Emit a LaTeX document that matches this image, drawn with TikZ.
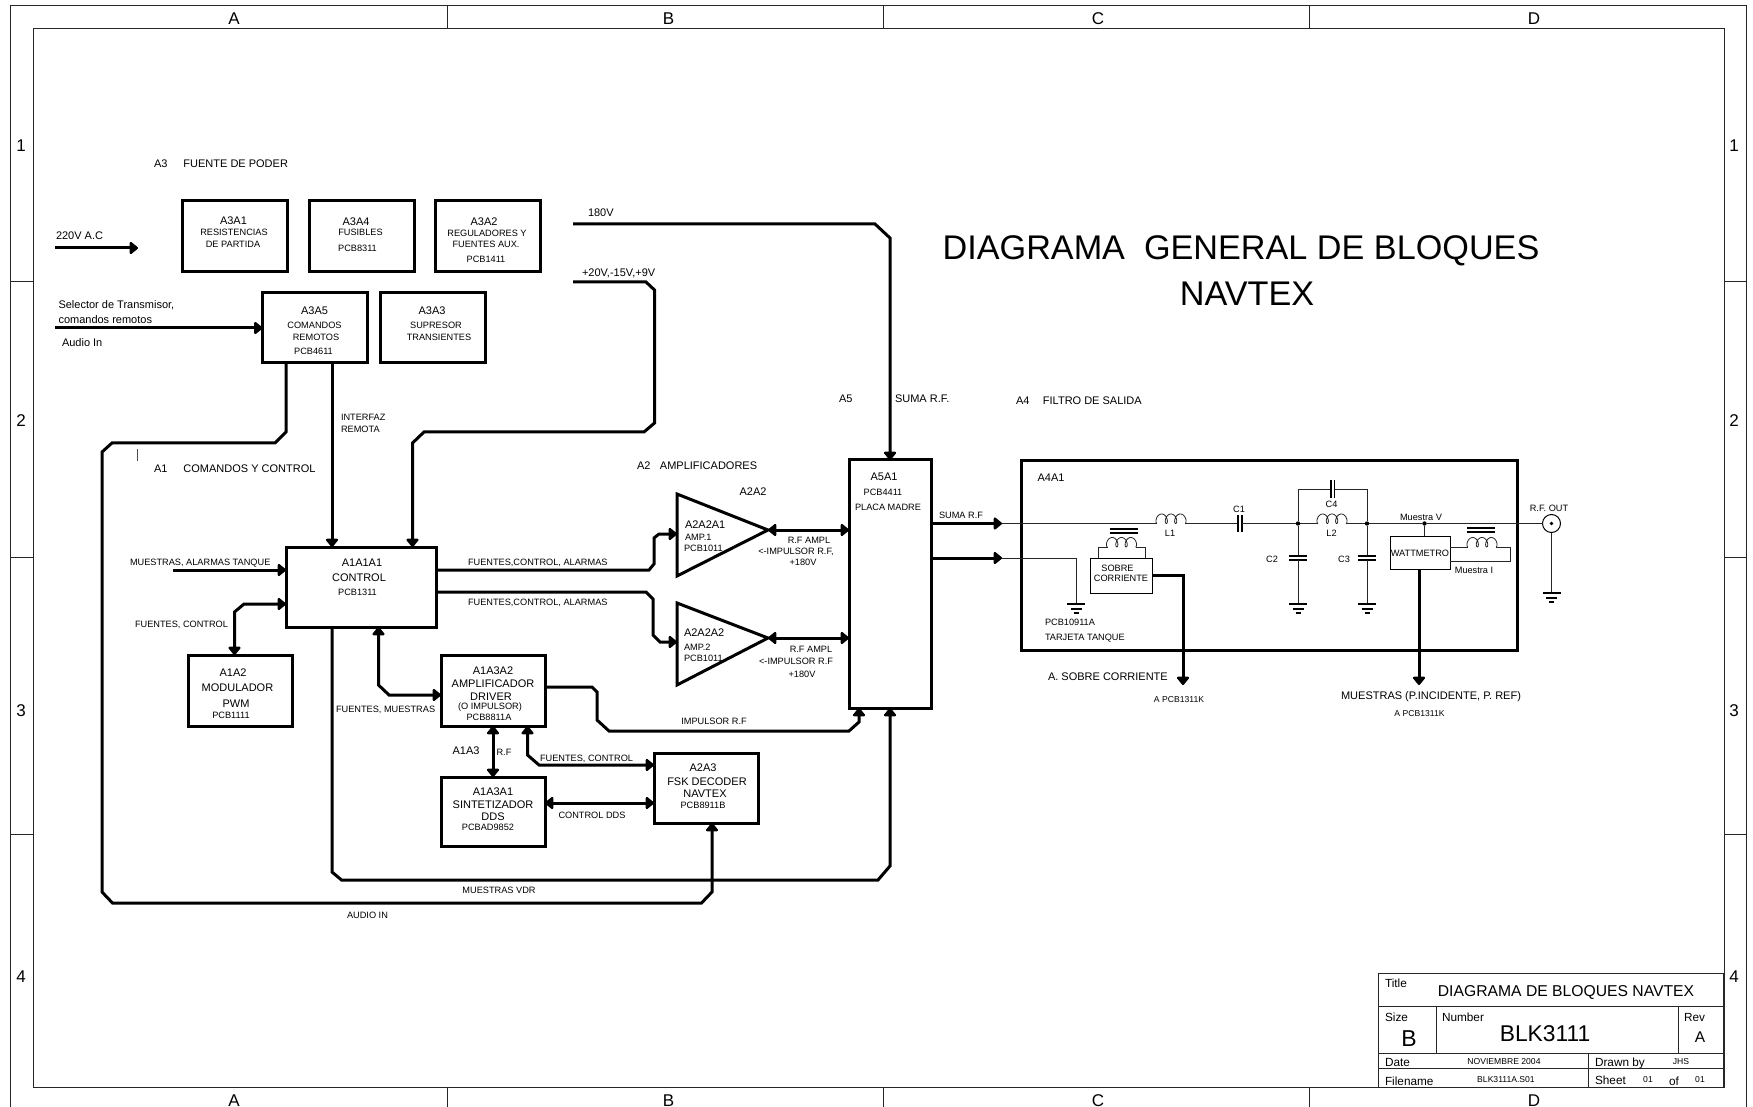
\documentclass[tikz,border=0pt]{standalone}
\usepackage{fontspec}
\setmainfont{Liberation Sans}
\usetikzlibrary{arrows.meta}

\begin{document}
\begin{tikzpicture}[
  x=0.5pt,y=-0.5pt,
  frameline/.style={draw=black!85,line width=0.5pt},
  txtbase/.style={inner sep=0pt,outer sep=0pt,text depth=0pt,yshift=-0.3pt},
  lblS/.style={txtbase,font=\fontsize{4.6}{5.5}\selectfont,text height=3.3pt},
  lblM/.style={txtbase,font=\fontsize{5.5}{6.5}\selectfont,text height=3.95pt},
  lblT/.style={txtbase,font=\fontsize{5.9}{7}\selectfont,text height=4.2pt},
  lblV/.style={txtbase,font=\fontsize{4.3}{5}\selectfont,text height=3.1pt},
  gridlbl/.style={txtbase,font=\fontsize{8.5}{10}\selectfont,text height=6.1pt},
  blk/.style={draw=black,line width=1.5pt,inner sep=0pt,outer sep=0pt},
  blkthin/.style={draw=black,line width=0.5pt,inner sep=0pt,outer sep=0pt},
  amp/.style={draw=black,line width=1.5pt},
  busl/.style={line width=1.5pt,draw=black},
  busa/.style={busl,-{Triangle[length=4.5pt,width=7pt,round]}},
  busb/.style={busl,{Triangle[length=4.5pt,width=7pt,round]}-{Triangle[length=4.5pt,width=7pt,round]}},
  wire/.style={draw=black!85,line width=0.4pt},
  plate/.style={draw=black,line width=0.6pt},
  dot/.style={circle,fill=black,inner sep=0pt,outer sep=0pt,minimum size=2.2pt},
  coil/.pic={\draw[wire] plot[domain=0:1080,samples=100] ({0.025926*\x-3*sin(\x)},{-4.75*(1-cos(\x))});},
  earth/.pic={\draw[plate] (-9,0) -- (9,0) (-5.5,5) -- (5.5,5) (-2.5,9) -- (2.5,9);}
]
\useasboundingbox (0,0) rectangle (1753,1107);

\draw[frameline] (10,1107) -- (10,6) -- (1746,6) -- (1746,1107);
\draw[frameline] (33,29) rectangle (1724,1087);
\foreach \x in {447,883.5,1309} {
  \draw[frameline] (\x,6) -- (\x,29);
  \draw[frameline] (\x,1087) -- (\x,1107);
}
\foreach \y in {282,557,834} {
  \draw[frameline] (10,\y) -- (33,\y);
  \draw[frameline] (1724,\y) -- (1746,\y);
}
\foreach \x/\c in {234/A,668.5/B,1098/C,1534/D} {
  \node[gridlbl] (top\c) at (\x,18) {\c};
  \node[gridlbl] (bot\c) at (\x,1100) {\c};
}
\foreach \y/\c in {145/1,420/2,710/3,976/4} {
  \node[gridlbl] (lft\c) at (21,\y) {\c};
  \node[gridlbl] (rgt\c) at (1734,\y) {\c};
}

\node[txtbase,font=\fontsize{17.1}{20}\selectfont,text height=12.2pt] (title1) at (1241,247) {DIAGRAMA\ \ GENERAL DE BLOQUES};
\node[txtbase,font=\fontsize{17.1}{20}\selectfont,text height=12.2pt] (title2) at (1247,293) {NAVTEX};

\node[blk,minimum width=52.5pt,minimum height=35.5pt] (A3A1) at (234.5,236.5) {};
\node[blk,minimum width=52.5pt,minimum height=35.5pt] (A3A4) at (361.5,236.5) {};
\node[blk,minimum width=52.5pt,minimum height=35.5pt] (A3A2) at (487.5,236.5) {};
\node[blk,minimum width=52.5pt,minimum height=35pt] (A3A5) at (315,328) {};
\node[blk,minimum width=52.5pt,minimum height=35pt] (A3A3) at (432.5,328) {};
\node[blk,minimum width=75pt,minimum height=40pt] (ctrl) at (361,587) {};
\node[blk,minimum width=52pt,minimum height=35.5pt] (A1A2) at (240.5,690.5) {};
\node[blk,minimum width=52pt,minimum height=35.5pt] (A1A3A2) at (493,690.5) {};
\node[blk,minimum width=52pt,minimum height=34.5pt] (A1A3A1) at (493,811.5) {};
\node[blk,minimum width=52pt,minimum height=35pt] (A2A3) at (706,788) {};
\node[blk,minimum width=41pt,minimum height=124pt] (A5A1) at (890,584) {};
\node[blk,minimum width=248pt,minimum height=94.5pt] (A4A1) at (1269,555.5) {};
\node[blkthin,minimum width=31pt,minimum height=17.5pt] (sobre) at (1121,575.5) {};
\node[blkthin,minimum width=30pt,minimum height=16.5pt] (watt) at (1420,552.5) {};

\coordinate (amp1top) at (677,494);
\coordinate (amp1low) at (677,576);
\coordinate (amp1in) at (677,534);
\coordinate (amp1tip) at (768,530);
\coordinate (amp2top) at (677,603);
\coordinate (amp2low) at (677,685);
\coordinate (amp2in) at (677,642);
\coordinate (amp2tip) at (768,638);
\draw[amp] (amp1top) -- (amp1low) -- (amp1tip) -- cycle;
\draw[amp] (amp2top) -- (amp2low) -- (amp2tip) -- cycle;

\node[lblM,anchor=west] (lblA3) at (154,163) {A3\hspace{8pt}FUENTE DE PODER};
\node[lblM,anchor=west] (lblA1) at (154,468) {A1\hspace{8pt}COMANDOS Y CONTROL};
\node[lblM,anchor=west] (lblA2) at (637,465) {A2\hspace{4.75pt}AMPLIFICADORES};
\node[lblM] (lblA2A2) at (753,491) {A2A2};
\node[lblM,anchor=west] (lblA5) at (839,398) {A5};
\node[lblM,anchor=west] (lblSuma) at (895,398) {SUMA R.F.};
\node[lblM,anchor=west] (lblA4) at (1016,400) {A4\hspace{6.75pt}FILTRO DE SALIDA};

\node[lblM,anchor=west] (ac) at (56,235) {220V A.C};
\node[lblM,anchor=west] (sel1) at (58.5,304) {Selector de Transmisor,};
\node[lblM,anchor=west] (sel2) at (58.5,319) {comandos remotos};
\node[lblM,anchor=west] (audioin) at (62,342) {Audio In};
\node[lblM,anchor=west] (v180t) at (588,212) {180V};
\node[lblM,anchor=west] (vauxt) at (582,272) {+20V,-15V,+9V};

\node[lblM] (A3A1a) at (233.5,220) {A3A1};
\node[lblS] (A3A1b) at (234,232) {RESISTENCIAS};
\node[lblS] (A3A1c) at (233,244) {DE PARTIDA};
\node[lblM] (A3A4a) at (356,221) {A3A4};
\node[lblS] (A3A4b) at (360.5,232) {FUSIBLES};
\node[lblS] (A3A4c) at (357.5,248) {PCB8311};
\node[lblM] (A3A2a) at (484,221) {A3A2};
\node[lblS] (A3A2b) at (487,232.5) {REGULADORES Y};
\node[lblS] (A3A2c) at (486,244) {FUENTES AUX.};
\node[lblS] (A3A2d) at (486,258.5) {PCB1411};
\node[lblM] (A3A5a) at (314.5,310) {A3A5};
\node[lblS] (A3A5b) at (314.5,324.5) {COMANDOS};
\node[lblS] (A3A5c) at (316,336.5) {REMOTOS};
\node[lblS] (A3A5d) at (313.5,350.5) {PCB4611};
\node[lblM] (A3A3a) at (432,310) {A3A3};
\node[lblS] (A3A3b) at (436,324.5) {SUPRESOR};
\node[lblS] (A3A3c) at (439,336.5) {TRANSIENTES};
\node[lblS,anchor=west] (interf1) at (341,416.5) {INTERFAZ};
\node[lblS,anchor=west] (interf2) at (341,428.5) {REMOTA};

\node[lblM] (ctrla) at (362,562) {A1A1A1};
\node[lblM] (ctrlb) at (359,577) {CONTROL};
\node[lblS] (ctrlc) at (357.5,592) {PCB1311};
\node[lblS,anchor=west] (mtqt) at (130,562) {MUESTRAS, ALARMAS TANQUE};
\node[lblS,anchor=west] (fct1) at (135,624) {FUENTES, CONTROL};
\node[lblS,anchor=west] (fca1) at (468,562) {FUENTES,CONTROL, ALARMAS};
\node[lblS,anchor=west] (fca2) at (468,602) {FUENTES,CONTROL, ALARMAS};
\node[lblM] (A1A2a) at (233,672) {A1A2};
\node[lblM] (A1A2b) at (237.5,687) {MODULADOR};
\node[lblM] (A1A2c) at (236,703) {PWM};
\node[lblS] (A1A2d) at (231,715) {PCB1111};
\node[lblM] (A1A3A2a) at (493,670) {A1A3A2};
\node[lblM] (A1A3A2b) at (493,683) {AMPLIFICADOR};
\node[lblM] (A1A3A2c) at (491,696) {DRIVER};
\node[lblS] (A1A3A2d) at (490,706) {(O IMPULSOR)};
\node[lblS] (A1A3A2e) at (489,717) {PCB8811A};
\node[lblS,anchor=west] (fmt) at (336,709) {FUENTES, MUESTRAS};
\node[lblM] (A1A3t) at (466,750) {A1A3};
\node[lblS] (rft) at (504,752) {R.F};
\node[lblS,anchor=west] (fct2) at (540,758) {FUENTES, CONTROL};
\node[lblM] (A2A3a) at (703,767) {A2A3};
\node[lblM] (A2A3b) at (707,781) {FSK DECODER};
\node[lblM] (A2A3c) at (705,793) {NAVTEX};
\node[lblS] (A2A3d) at (703,805) {PCB8911B};
\node[lblM] (A1A3A1a) at (493,791) {A1A3A1};
\node[lblM] (A1A3A1b) at (493,804) {SINTETIZADOR};
\node[lblM] (A1A3A1c) at (493,816) {DDS};
\node[lblS] (A1A3A1d) at (488,827) {PCBAD9852};
\node[lblS] (ddst) at (592,815) {CONTROL DDS};
\node[lblS] (vdrt) at (499,890) {MUESTRAS VDR};
\node[lblS] (audiot) at (367.5,915) {AUDIO IN};
\node[lblS] (impt) at (714,721) {IMPULSOR R.F};

\node[lblM,anchor=west] (amp1a) at (685,524) {A2A2A1};
\node[lblS,anchor=west] (amp1b) at (685,537) {AMP.1};
\node[lblS,anchor=west] (amp1c) at (684,548) {PCB1011};
\node[lblM,anchor=west] (amp2a) at (684,632) {A2A2A2};
\node[lblS,anchor=west] (amp2b) at (684,647) {AMP.2};
\node[lblS,anchor=west] (amp2c) at (684,658) {PCB1011};
\node[lblS] (rf1a) at (809,540) {R.F AMPL};
\node[lblS] (rf1b) at (796,551) {<-IMPULSOR R.F,};
\node[lblS] (rf1c) at (803,562) {+180V};
\node[lblS] (rf2a) at (811,649) {R.F AMPL};
\node[lblS] (rf2b) at (796,661) {<-IMPULSOR R.F};
\node[lblS] (rf2c) at (802,674) {+180V};

\node[lblM] (A5A1a) at (884,476) {A5A1};
\node[lblS] (A5A1b) at (883,492) {PCB4411};
\node[lblS] (A5A1c) at (888,507) {PLACA MADRE};
\node[lblS,anchor=west] (sumat) at (939,515) {SUMA R.F};

\node[lblM] (A4A1a) at (1051,477) {A4A1};
\node[lblS] (L1t) at (1170,533) {L1};
\node[lblS] (C1t) at (1239,509) {C1};
\node[lblS] (C4t) at (1331.5,504) {C4};
\node[lblS] (L2t) at (1331.5,533) {L2};
\node[lblS] (C2t) at (1272,559) {C2};
\node[lblS] (C3t) at (1344,559) {C3};
\node[lblS] (mvt) at (1421,517) {Muestra V};
\node[lblS] (miat) at (1474,570) {Muestra I};
\node[lblS] (wattt) at (1420,553) {WATTMETRO};
\node[lblS] (rfout) at (1549,508) {R.F. OUT};
\node[lblS] (sobre1) at (1117.5,568) {SOBRE};
\node[lblS] (sobre2) at (1121,578) {CORRIENTE};
\node[lblS,anchor=west] (tank1) at (1045,622) {PCB10911A};
\node[lblS,anchor=west] (tank2) at (1045,637) {TARJETA TANQUE};
\node[lblM,anchor=west] (sct) at (1048,676) {A. SOBRE CORRIENTE};
\node[lblV] (apcb1) at (1179,699) {A PCB1311K};
\node[lblM] (mpt) at (1431,695) {MUESTRAS (P.INCIDENTE, P. REF)};
\node[lblV] (apcb2) at (1419.5,713) {A PCB1311K};

\coordinate (acin) at (55,248);
\coordinate (acout) at (138,248);
\coordinate (selin) at (55,328);
\coordinate (v180) at (573,224);
\coordinate (vaux) at (573,282);
\coordinate (mtq) at (173,570);
\coordinate (rfa) at (1002,523.5);
\coordinate (rfb) at (1002,558);
\coordinate (scout) at (1183,685);
\coordinate (mpout) at (1419,685);

\draw[busa] (acin) -- (acout);
\draw[busa] (selin) -- (A3A5.west |- selin);
\draw[busa] (v180) -- (875,224) -- (890,238) -- (A5A1.north);
\draw[busa] (vaux) -- (646,282) -- (654.5,290) -- (654.5,423) -- (644,432) -- (424,432) -- (412.5,443) -- (412.5,0 |- ctrl.north);
\draw[busa] (332,0 |- A3A5.south) -- (332,0 |- ctrl.north);
\draw[busa] (286,0 |- A3A5.south) -- (286,432) -- (275,443) -- (112,443) -- (102,452) -- (102,892) -- (112.5,903) -- (701.5,903) -- (712,892) -- (712,0 |- A2A3.south);
\draw[black!70,line width=0.5pt] (137,449) -- (137,461);
\draw[busa] (mtq) -- (ctrl.west |- mtq);
\draw[busb] (ctrl.west |- 0,604) -- (244,604) -- (234.5,612) -- (234.5,0 |- A1A2.north);
\draw[busb] (378.5,0 |- ctrl.south) -- (378.5,685) -- (389,695) -- (A1A3A2.west |- 0,695);
\draw[busa] (332,0 |- ctrl.south) -- (332,872) -- (341.5,880) -- (878,880) -- (890,866) -- (A5A1.south);
\draw[busa] (ctrl.east |- 0,570) -- (649,570) -- (654,564) -- (654,538) -- (659,534) -- (amp1in);
\draw[busa] (ctrl.east |- 0,592) -- (646,592) -- (653,599) -- (653,635) -- (660,642) -- (amp2in);
\draw[busb] (amp1tip) -- (A5A1.west |- amp1tip);
\draw[busb] (amp2tip) -- (A5A1.west |- amp2tip);
\draw[busa] (A1A3A2.east |- 0,687) -- (592,687) -- (597,692) -- (597,720) -- (609,731) -- (849,731) -- (859,722) -- (859,0 |- A5A1.south);
\draw[busb] (A1A3A2.south) -- (A1A3A1.north);
\draw[busb] (527.5,0 |- A1A3A2.south) -- (527.5,755) -- (539,765) -- (A2A3.west |- 0,765);
\draw[busb] (A1A3A1.east |- 0,803) -- (A2A3.west |- 0,803);
\draw[busa] (A5A1.east |- rfa) -- (rfa);
\draw[busa] (A5A1.east |- rfb) -- (rfb);
\draw[busa] (sobre.east |- 0,575) -- (1183,575) -- (scout);
\draw[busa] (1419,0 |- watt.south) -- (mpout);

\node[dot] (j1) at (1298,523.5) {};
\node[dot] (j2) at (1367,523.5) {};
\node[dot] (j3) at (1424.5,523.5) {};
\node[circle,draw=black,line width=0.5pt,inner sep=0pt,outer sep=0pt,minimum size=9pt] (bnc) at (1551.5,523.5) {};
\node[dot,minimum size=1.8pt] (bncin) at (1551.5,523.5) {};

\draw[wire] (rfa) -- (1157,523.5);
\pic at (1157,523.5) {coil};
\draw[wire] (1185,523.5) -- (1238,523.5);
\draw[plate] (1238,515) -- (1238,532) (1242,515) -- (1242,532);
\draw[wire] (1242,523.5) -- (j1) -- (1318,523.5);
\pic at (1318,523.5) {coil};
\draw[wire] (1346,523.5) -- (j2) -- (j3) -- (bnc.west);
\draw[wire] (j1) -- (1298,489) -- (1331,489);
\draw[wire] (1334.5,489) -- (1367,489) -- (j2);
\draw[plate] (1331,480) -- (1331,498) (1334.5,480) -- (1334.5,498);
\draw[wire] (j1) -- (1298,556);
\draw[plate] (1289,556) -- (1307,556) (1289,560) -- (1307,560);
\draw[wire] (1298,560) -- (1298,604);
\pic at (1298,604) {earth};
\draw[wire] (j2) -- (1367,556);
\draw[plate] (1358,556) -- (1376,556) (1358,560) -- (1376,560);
\draw[wire] (1367,560) -- (1367,604);
\pic at (1367,604) {earth};
\draw[wire] (j3) -- (j3 |- watt.north);
\draw[wire] (rfb) -- (1076,558) -- (1076,604);
\pic at (1076,604) {earth};
\draw[wire] (1098,0 |- sobre.north) -- (1098,547) -- (1107.5,547);
\pic at (1107.5,547) {coil};
\draw[wire] (1135.5,547) -- (1145,547) -- (1145,0 |- sobre.north);
\draw[plate] (1109.5,529) -- (1137.5,529) (1109.5,533) -- (1137.5,533);
\draw[wire] (watt.east |- 0,547) -- (1468,547);
\pic at (1468,547) {coil};
\draw[wire] (1496,547) -- (1510,547) -- (1510,561) -- (watt.east |- 0,561);
\draw[plate] (1467,528) -- (1495,528) (1467,532) -- (1495,532);
\draw[wire] (bnc.south) -- (1551.5,593);
\pic at (1551.5,593) {earth};

\draw[frameline] (1378,973) rectangle (1723,1087);
\draw[frameline] (1378,1006) -- (1723,1006);
\draw[frameline] (1378,1053) -- (1723,1053);
\draw[frameline] (1378,1068) -- (1723,1068);
\draw[frameline] (1436,1006) -- (1436,1053);
\draw[frameline] (1678,1006) -- (1678,1053);
\draw[frameline] (1588,1053) -- (1588,1087);
\node[lblT,anchor=west] (tbTitle) at (1385,983) {Title};
\node[txtbase,font=\fontsize{7.85}{9}\selectfont,text height=5.6pt] (tbName) at (1566,990) {DIAGRAMA DE BLOQUES NAVTEX};
\node[lblT,anchor=west] (tbSize) at (1385,1017) {Size};
\node[txtbase,font=\fontsize{11.5}{13}\selectfont,text height=8.2pt] (tbB) at (1409,1038) {B};
\node[lblT,anchor=west] (tbNum) at (1442,1017) {Number};
\node[txtbase,font=\fontsize{11.4}{13}\selectfont,text height=8.1pt] (tbBlk) at (1545,1033) {BLK3111};
\node[lblT,anchor=west] (tbRev) at (1684,1017) {Rev};
\node[txtbase,font=\fontsize{7.75}{9}\selectfont,text height=5.6pt] (tbA) at (1700,1036) {A};
\node[lblT,anchor=west] (tbDate) at (1385,1062) {Date};
\node[lblV] (tbNov) at (1504,1061) {NOVIEMBRE 2004};
\node[lblT,anchor=west] (tbDrawn) at (1595,1062) {Drawn by};
\node[lblV] (tbJhs) at (1681,1061) {JHS};
\node[lblT,anchor=west] (tbFile) at (1385,1081) {Filename};
\node[lblV] (tbFn) at (1506,1079) {BLK3111A.S01};
\node[lblT,anchor=west] (tbSheet) at (1595,1080) {Sheet};
\node[lblV] (tbS1) at (1648,1079) {01};
\node[lblT] (tbOf) at (1674,1081) {of};
\node[lblV] (tbS2) at (1700,1079) {01};
\end{tikzpicture}
\end{document}
